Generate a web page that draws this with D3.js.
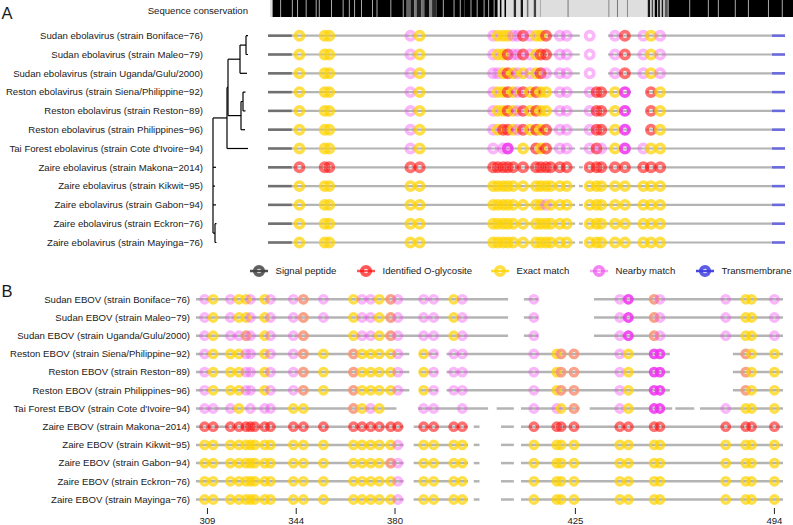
<!DOCTYPE html>
<html><head><meta charset="utf-8">
<script src="https://cdn.jsdelivr.net/npm/d3@7"></script>
<style>
body{margin:0;background:#fff}
svg{display:block}
text{font-family:"Liberation Sans",Arial,Helvetica,sans-serif;fill:#1a1a1a}
</style>
</head><body>
<svg id="c" width="793" height="525"></svg>
<script>
// ---------------- DATA ----------------
const strainsA = [
  "Sudan ebolavirus (strain Boniface\u221276)",
  "Sudan ebolavirus (strain Maleo\u221279)",
  "Sudan ebolavirus (strain Uganda/Gulu/2000)",
  "Reston ebolavirus (strain Siena/Philippine\u221292)",
  "Reston ebolavirus (strain Reston\u221289)",
  "Reston ebolavirus (strain Philippines\u221296)",
  "Tai Forest ebolavirus (strain Cote d'Ivoire\u221294)",
  "Zaire ebolavirus (strain Makona\u22122014)",
  "Zaire ebolavirus (strain Kikwit\u221295)",
  "Zaire ebolavirus (strain Gabon\u221294)",
  "Zaire ebolavirus (strain Eckron\u221276)",
  "Zaire ebolavirus (strain Mayinga\u221276)"
];
const strainsB = [
  "Sudan EBOV (strain Boniface\u221276)",
  "Sudan EBOV (strain Maleo\u221279)",
  "Sudan EBOV (strain Uganda/Gulu/2000)",
  "Reston EBOV (strain Siena/Philippine\u221292)",
  "Reston EBOV (strain Reston\u221289)",
  "Reston EBOV (strain Philippines\u221296)",
  "Tai Forest EBOV (strain Cote d'Ivoire\u221294)",
  "Zaire EBOV (strain Makona\u22122014)",
  "Zaire EBOV (strain Kikwit\u221295)",
  "Zaire EBOV (strain Gabon\u221294)",
  "Zaire EBOV (strain Eckron\u221276)",
  "Zaire EBOV (strain Mayinga\u221276)"
];

// phylogeny (branch lengths), leaves index strainsA
const treeData = {len:0, children:[
  {len:0.14, children:[
    {len:0.01, children:[
      {len:0.12, children:[
        {len:0.06, children:[{leaf:0,len:0.02},{leaf:1,len:0.02}]},
        {leaf:2,len:0.07}]},
      {len:0.13, children:[
        {len:0.02, children:[{leaf:3,len:0.025},{leaf:4,len:0.025}]},
        {leaf:5,len:0.04}]}]},
    {leaf:6,len:0.21}]},
  {leaf:7,len:0.03},
  {leaf:8,len:0.02},
  {leaf:9,len:0.03},
  {len:0.02, children:[{leaf:10,len:0.015},{leaf:11,len:0.015}]}]};

// sequence conservation runs: [start, end, level 0..1]
const conservationRuns = [
  [1,10,1],[12,25,1],[27,32,1],[34,43,1],[45,56,1],[58,60,1],[62,76,1],[78,91,1],[93,99,1],
  [101,106,1],[108,115,1],[117,129,1],[131,135,1],[137,153,1],[155,169,1],[171,174,1],
  [175,179,0.55],[180,184,0.9],[185,187,0.45],[188,193,0.85],[194,197,0.5],[198,203,0.95],
  [204,207,0.4],[208,213,0.8],
  [214,221,1],[223,235,1],[237,243,1],[245,249,1],
  [250,257,1],[259,265,1],[267,274,1],[276,280,1],[282,287,1],[289,292,1],
  [296,297,1],[302,303,1],
  [314,316,0.8],[323,325,0.9],[331,332,0.5],[340,342,0.7],[348,348,0.3],
  [384,384,0.6],[437,437,0.5],[448,448,0.6],[461,461,0.5],
  [488,490,0.9],[493,494,0.7],[497,499,1],[501,503,0.8],[506,507,0.9],[510,513,0.6],
  [515,541,1],[543,565,1],[567,578,1],[580,600,1],[602,617,1],[619,643,1],[645,661,1],[663,676,1]
];

// Panel A: full protein
const signalPeptide = [1, 32];
const transmembrane = [659, 676];
const sitesA = [42,75,81,187,199, 295,301,308,314,321,327,334,343,351,357,364,370,382,391, 421,430,436, 454,467, 491,501,513];
const typesA = [
  "EEENE"+"NEEENNGNEEG.NN"+"N.."+"NG"+"NEN",
  "EEENE"+"NEEGNNGNEGG.NN"+"N.."+"NG"+"NEN",
  "EEENE"+"NNEGENENEGN.NN"+"N.."+"NG"+"NEN",
  "EEENE"+"NEEGENGEGEE.NN"+"NGG"+"EM"+".GE",
  "EEENE"+"NEEGENGEGEE.NN"+"NGG"+"EM"+".GE",
  "EEENE"+"NEGGENGEGEG.NN"+"NGG"+"EM"+".GE",
  "EEENE"+"N.NM..E.GEG.NN"+"NGN"+"EM"+"NEE",
  "GGGGG"+"GGGGG.G.GGGGGG"+"GGG"+"GG"+"GGG",
  "EEEEE"+"EEEEE.E.EEEEEE"+"EEE"+"EE"+"EEE",
  "EEEEE"+"EEEEE.E.EENEEE"+"EEE"+"EE"+"EEE",
  "EEEEE"+"EEEEE.E.EEEEEE"+"EEE"+"EE"+"EEE",
  "EEEEE"+"EEEEE.E.EEEEEE"+"EEE"+"EE"+"EEE"
];
const segSudanA  = [[1,408],[445,676]];
const segRestonA = [[1,475],[495,676]];
const segTaiA    = [[1,402],[408,676]];
const segZaireA  = [[1,402],[407,412],[416,676]];
const segmentsA = [segSudanA,segSudanA,segSudanA,segRestonA,segRestonA,segRestonA,segTaiA,
                   segZaireA,segZaireA,segZaireA,segZaireA,segZaireA];

// Panel B: zoomed alignment columns
const sitesB = [4,7, 13,16,18.5,20,21.5,25,27, 35,38.5,45.5, 56,59,62,65,69,71.5, 80.5,84, 91,94, 119,
                127,128.5,133, 149,152, 161,163, 186, 193,195, 203];
const typesB = [
  "NE"+"NEEN.EN"+"NBN"+"ENNEBN"+"NN"+"EN"+"N"+"..."+"NM"+"BN"+"N"+"EE"+"N",
  "NE"+"NEEN.EN"+"NBN"+"ENNEBN"+"NN"+"EN"+"N"+"..."+"NM"+"BN"+"N"+"EE"+"N",
  "NE"+"NNBN.EN"+"NB."+"ENNEBN"+"NN"+"EN"+"N"+"..."+"NM"+"BN"+"N"+"EE"+"N",
  "NE"+"EENN.EN"+"NBE"+"BEEEEN"+"EN"+"NN"+"N"+"EBB"+"NE"+"MM"+"."+"BE"+"E",
  "NE"+"EENN.EN"+"NBE"+"BEEEEN"+"EN"+"NN"+"N"+"EBB"+"NE"+"MM"+"."+"BE"+"E",
  "NE"+"EENN.EN"+"NBE"+"BEEEEN"+"EN"+"NN"+"N"+"EBB"+"NE"+"MM"+"."+"BE"+"E",
  "NN"+"NE.N.NN"+"EE."+"BENE.."+"NN"+".N"+"N"+"NEB"+"NE"+"MM"+"N"+"EE"+"E",
  "GG"+"GGGGGGG"+"GGG"+"GGGGGG"+"GG"+"GG"+"G"+"GGG"+"GG"+"GG"+"G"+"GG"+"G",
  "EE"+"EEEEEEE"+"EEE"+"EEEEEN"+"EE"+"EE"+"E"+"EEE"+"EE"+"EE"+"E"+"EE"+"E",
  "EE"+"EEEEEEE"+"EEE"+"EEEEBN"+"EE"+"EE"+"E"+"EEE"+"EE"+"EE"+"E"+"EE"+"E",
  "EE"+"EEEEEEE"+"EEE"+"EEEEEN"+"EE"+"EE"+"E"+"EEE"+"EE"+"EE"+"E"+"EE"+"E",
  "EE"+"EEEEEEE"+"EEE"+"EEEEEN"+"EE"+"EE"+"E"+"EEE"+"EE"+"EE"+"E"+"EE"+"E"
];
const segSudanB  = [[1,110],[115.5,120.5],[140,206]];
const segRestonB = [[1,75.5],[79,85.5],[88.5,166.5],[188.5,206]];
const segTaiB    = [[1,71],[78.5,103],[106,112],[114.5,135],[138.5,167.3],[168.4,175],[177,206]];
const segZaireB  = [[1,73.5],[77,96],[98,100],[107.5,112],[114.5,206]];
const segmentsB = [segSudanB,segSudanB,segSudanB,segRestonB,segRestonB,segRestonB,segTaiB,
                   segZaireB,segZaireB,segZaireB,segZaireB,segZaireB];
const tickColsB = [5, 36, 70.5, 133.5, 203];
const tickLabelsB = ["309","344","380","425","494"];

const legendLabels = ["Signal peptide","Identified O-glycosite","Exact match","Nearby match","Transmembrane"];
const legendKeys = ["S","G","E","N","T"];

// ---------------- STYLE ----------------
const FS = 9.6;
const ring = {
  E:{color:"#FFD200", op:0.72},
  N:{color:"#F050F0", op:0.42},
  M:{color:"#F030F0", op:0.85},
  G:{color:"#FF1010", op:0.6},
  S:{color:"#444444", op:0.85},
  T:{color:"#3f3fe0", op:0.85}
};
const codesOf = c => c === "B" ? ["E","N"] : [c];

const svg = d3.select("#c");

// ---------------- PANEL A ----------------
svg.append("text").attr("x",1.5).attr("y",19.3).attr("font-size",16.5).text("A");
svg.append("text").attr("x",248).attr("y",14.3).attr("text-anchor","end")
   .attr("font-size",FS).text("Sequence conservation");

const xCons = d3.scaleLinear().domain([1,676]).range([273,793]);
const consColor = d3.interpolateRgb("#dedede","#000000");
const gCons = svg.append("g");
gCons.append("rect").attr("x",xCons(1)-3).attr("y",0).attr("width",xCons(676)-xCons(1)+3)
     .attr("height",17).attr("fill","#dedede");
gCons.selectAll("rect.run").data(conservationRuns).join("rect").attr("class","run")
  .attr("x",d=>xCons(d[0]-0.5)).attr("width",d=>xCons(d[1]+0.5)-xCons(d[0]-0.5))
  .attr("y",0).attr("height",17).attr("fill",d=>consColor(d[2]));

const xA = d3.scaleLinear().domain([1,676]).range([268,785]);
const yA = d3.scalePoint().domain(strainsA).range([35.7,242.5]);

svg.append("g").selectAll("text").data(strainsA).join("text")
  .attr("x",203).attr("y",d=>yA(d)).attr("dy","0.35em").attr("text-anchor","end")
  .attr("font-size",FS).text(d=>d);

// tree
const tx = d3.scaleLinear().domain([0,0.35]).range([213,248]);
const root = d3.hierarchy(treeData);
root.eachBefore(n => n.cum = (n.parent ? n.parent.cum : 0) + n.data.len);
root.eachAfter(n => {
  n.yy = n.children ? (n.children[0].yy + n.children[n.children.length-1].yy)/2
                    : yA(strainsA[n.data.leaf]);
});
const gTree = svg.append("g").attr("stroke","#000").attr("stroke-width",1.2).attr("fill","none");
root.descendants().forEach(n => {
  if (n.parent) gTree.append("path").attr("d",`M${tx(n.parent.cum)},${n.yy}H${tx(n.cum)}`);
  if (n.children) gTree.append("path")
    .attr("d",`M${tx(n.cum)},${n.children[0].yy}V${n.children[n.children.length-1].yy}`);
});

function drawRow(g, x, y, segs, sites, types, r, sw, lineW, extras){
  g.selectAll(null).data(segs).join("line")
    .attr("x1",d=>x(d[0])).attr("x2",d=>x(d[1])).attr("y1",y).attr("y2",y)
    .attr("stroke","#b4b4b4").attr("stroke-width",lineW);
  if (extras) extras(g);
  const rings = [];
  sites.forEach((s,i)=>{ const c = types[i]; if (c && c !== ".") codesOf(c).forEach(k=>rings.push({s,k})); });
  g.selectAll(null).data(rings).join("circle")
    .attr("cx",d=>x(d.s)).attr("cy",y).attr("r",r).attr("fill","none")
    .attr("stroke",d=>ring[d.k].color).attr("stroke-opacity",d=>ring[d.k].op).attr("stroke-width",sw);
}

strainsA.forEach((st,i)=>{
  const y = yA(st);
  drawRow(svg.append("g"), xA, y, segmentsA[i], sitesA, typesA[i], 4.1, 3.7, 2.2, g=>{
    g.append("line").attr("x1",xA(signalPeptide[0])).attr("x2",xA(signalPeptide[1]))
      .attr("y1",y).attr("y2",y).attr("stroke","#707070").attr("stroke-width",2.5);
    g.append("line").attr("x1",xA(transmembrane[0])).attr("x2",xA(transmembrane[1]))
      .attr("y1",y).attr("y2",y).attr("stroke","#6a6ae0").attr("stroke-width",2.5);
  });
});

// legend
const legX = [259, 366, 500, 599, 705];
const gLeg = svg.append("g");
legendLabels.forEach((lab,i)=>{
  const k = ring[legendKeys[i]], cx = legX[i], cy = 271;
  gLeg.append("line").attr("x1",cx-9).attr("x2",cx+9).attr("y1",cy).attr("y2",cy)
    .attr("stroke",k.color).attr("stroke-opacity",Math.min(1,k.op+0.1)).attr("stroke-width",2.5);
  gLeg.append("circle").attr("cx",cx).attr("cy",cy).attr("r",4.2).attr("fill","none")
    .attr("stroke",k.color).attr("stroke-opacity",Math.max(k.op,0.7)).attr("stroke-width",3.8);
  gLeg.append("text").attr("x",cx+16.5).attr("y",cy).attr("dy","0.35em").attr("font-size",FS).text(lab);
});

// ---------------- PANEL B ----------------
svg.append("text").attr("x",1.5).attr("y",297).attr("font-size",16.5).text("B");
const xB = d3.scaleLinear().domain([1,206]).range([196,783]);
const yB = d3.scalePoint().domain(strainsB).range([299.3,499.5]);

svg.append("g").selectAll("text").data(strainsB).join("text")
  .attr("x",190).attr("y",d=>yB(d)).attr("dy","0.35em").attr("text-anchor","end")
  .attr("font-size",FS).text(d=>d);

strainsB.forEach((st,i)=>{
  drawRow(svg.append("g"), xB, yB(st), segmentsB[i], sitesB, typesB[i], 3.7, 3.4, 2.5, null);
});

const gAx = svg.append("g");
tickColsB.forEach((c,i)=>{
  gAx.append("line").attr("x1",xB(c)).attr("x2",xB(c)).attr("y1",508).attr("y2",514)
    .attr("stroke","#222").attr("stroke-width",1);
  gAx.append("text").attr("x",xB(c)).attr("y",523.5).attr("text-anchor","middle")
    .attr("font-size",FS).text(tickLabelsB[i]);
});
</script>
</body></html>
